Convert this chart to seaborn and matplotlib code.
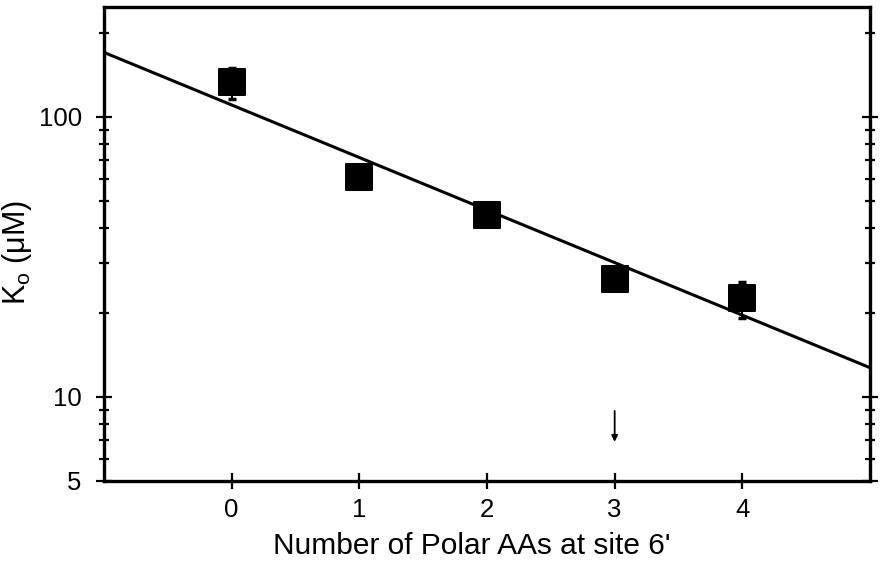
import numpy as np
import pandas as pd
import matplotlib
matplotlib.use("Agg")
import matplotlib.pyplot as plt
from matplotlib.ticker import LogLocator, FixedLocator, NullFormatter, FuncFormatter
import seaborn as sns

# Measured dissociation constants vs number of polar residues at site 6'
n_polar = [0, 1, 2, 3, 4]
k_o = [133, 61, 44.5, 26.4, 22.5]
k_err_low = [17, 0, 0, 0, 3.4]
k_err_high = [17, 0, 0, 0, 3.3]

# Exponential fit (log-linear), evaluated across the x range
fit_x = [-1, 5]
fit_y = [170, 12.7]

sns.set_theme(style="white")
plt.rcParams["font.family"] = ["Liberation Sans", "DejaVu Sans"]
plt.rcParams["mathtext.fontset"] = "custom"
plt.rcParams["mathtext.rm"] = "Liberation Sans"
for key in ("text.color", "axes.labelcolor", "xtick.color", "ytick.color"):
    plt.rcParams[key] = "black"

fig = plt.figure(figsize=(8.83, 5.72), dpi=100)
ax = fig.add_axes([104 / 883, 1 - 481 / 572, (870 - 104) / 883, (481 - 7) / 572])

df = pd.DataFrame({"n": n_polar, "k": k_o})
fit_df = pd.DataFrame({"x": fit_x, "y": fit_y})

ax.set_yscale("log")
sns.lineplot(data=fit_df, x="x", y="y", ax=ax, color="black", linewidth=2.2)
ax.errorbar(n_polar, k_o, yerr=[k_err_low, k_err_high], fmt="none",
            ecolor="black", elinewidth=1.5, capsize=3, capthick=2.5, zorder=3)
sns.scatterplot(data=df, x="n", y="k", ax=ax, marker="s", s=330,
                color="black", edgecolor="black", zorder=4)

# downward arrow marking three polar residues
ax.annotate("", xy=(3, 6.9), xytext=(3, 8.9),
            arrowprops=dict(arrowstyle="-|>", color="black", lw=1.3,
                            mutation_scale=9, shrinkA=0, shrinkB=0))

ax.set_xlim(-1, 5)
ax.set_ylim(5, 247)
ax.xaxis.set_major_locator(FixedLocator([0, 1, 2, 3, 4]))
ax.yaxis.set_major_locator(FixedLocator([5, 10, 100]))
ax.yaxis.set_minor_locator(LogLocator(base=10, subs=np.arange(2, 10)))
ax.yaxis.set_major_formatter(FuncFormatter(lambda v, p: f"{v:g}"))
ax.yaxis.set_minor_formatter(NullFormatter())

ax.tick_params(axis="both", which="major", direction="inout", length=12,
               width=1.6, color="black", labelcolor="black", labelsize=18.5,
               left=True, right=True, bottom=True)
ax.tick_params(axis="y", which="major", pad=10)
ax.tick_params(axis="x", which="major", pad=6)
ax.tick_params(axis="y", which="minor", direction="inout", length=7,
               width=1.6, color="black", left=True, right=True)
ax.tick_params(axis="x", which="minor", bottom=False)

for sp in ax.spines.values():
    sp.set_visible(True)
    sp.set_color("black")
    sp.set_linewidth(2.4)

ax.set_xlabel("Number of Polar AAs at site 6'", fontsize=21.5, color="black")
ax.set_ylabel(r"K$_\mathrm{o}$ (μM)", fontsize=22, color="black")
ax.xaxis.set_label_coords(0.48, -0.108)
ax.yaxis.set_label_coords(-0.092, 0.483)

fig.savefig("out.png", dpi=100)
